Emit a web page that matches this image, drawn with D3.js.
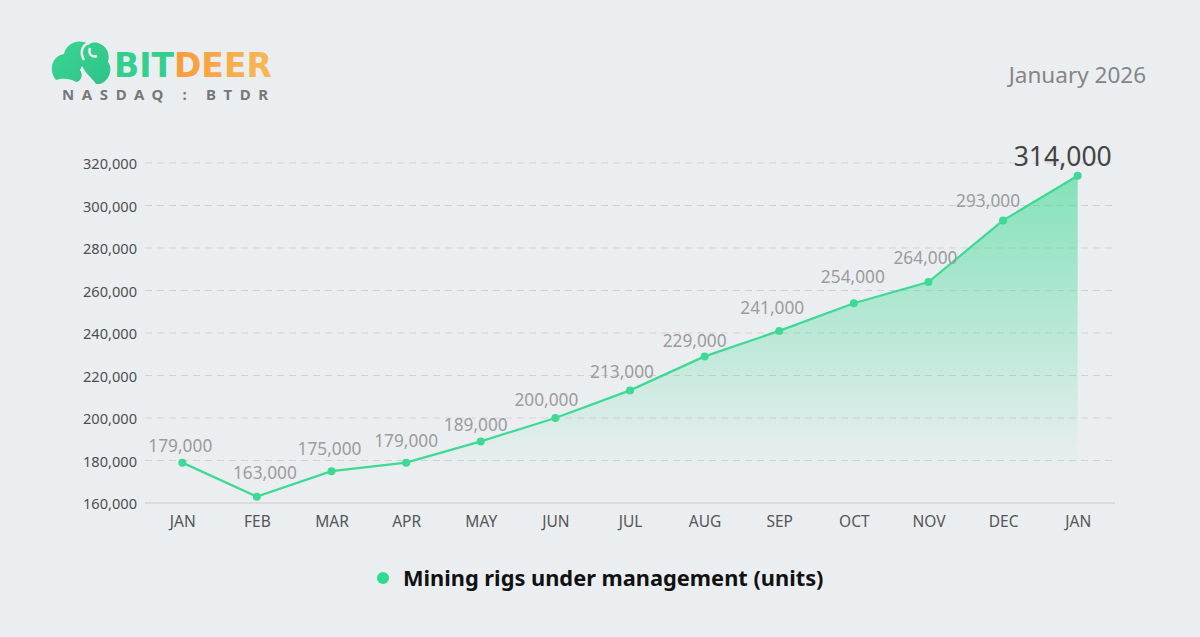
<!DOCTYPE html>
<html>
<head>
<meta charset="utf-8">
<script src="https://cdn.jsdelivr.net/npm/d3@7"></script>
<style>
  html, body { margin: 0; padding: 0; background: #ebeef1; }
  svg { display: block; font-family: "Noto Sans", "Open Sans", sans-serif; }
</style>
</head>
<body>
<div id="chart"><svg></svg></div>
<script>
// data
const months = ["JAN", "FEB", "MAR", "APR", "MAY", "JUN", "JUL", "AUG", "SEP", "OCT", "NOV", "DEC", "JAN"];
const rigs = [179000, 163000, 175000, 179000, 189000, 200000, 213000, 229000, 241000, 254000, 264000, 293000, 314000];
const yTicks = [160000, 180000, 200000, 220000, 240000, 260000, 280000, 300000, 320000];
const seriesName = "Mining rigs under management (units)";
const dateLabel = "January 2026";

const width = 1200, height = 637;
const green = "#3ed994";

// hand nudges of the value labels (dx, dy from the point), as in the picture
const labelNudge = [[-2, -17], [8, -24], [-2, -23], [0, -22], [-5, -17], [-9, -19], [-8, -19],
                    [-10, -16], [-7, -23], [-1, -27], [-3, -25], [-15, -20], [-15, -20]];

const svg = d3.select("svg").attr("width", width).attr("height", height);

const rows = months.map(function(m, i){ return {key: i, month: m, value: rigs[i]}; });

const x = d3.scalePoint()
    .domain(rows.map(d => d.key))
    .range([145, 1115])
    .padding(0.5);

const y = d3.scaleLinear()
    .domain([160000, 320000])
    .range([503, 163]);

// gradients
const defs = svg.append("defs");
const grad = defs.append("linearGradient")
    .attr("id", "areaGrad")
    .attr("gradientUnits", "userSpaceOnUse")
    .attr("x1", 0).attr("y1", y(314000)).attr("x2", 0).attr("y2", y(175000));
grad.append("stop").attr("offset", 0).attr("stop-color", green).attr("stop-opacity", 0.6);
grad.append("stop").attr("offset", 1).attr("stop-color", green).attr("stop-opacity", 0);

const logoGrad = defs.append("linearGradient").attr("id", "deerGrad")
    .attr("x1", 0).attr("y1", 0).attr("x2", 1).attr("y2", 0);
logoGrad.append("stop").attr("offset", 0).attr("stop-color", "#f58a2a");
logoGrad.append("stop").attr("offset", 1).attr("stop-color", "#f7b955");

const iconGrad = defs.append("linearGradient").attr("id", "iconGrad")
    .attr("x1", 0).attr("y1", 0).attr("x2", 1).attr("y2", 1);
iconGrad.append("stop").attr("offset", 0).attr("stop-color", "#3bd592");
iconGrad.append("stop").attr("offset", 1).attr("stop-color", "#2ec389");

// gridlines
svg.append("g").selectAll("line")
    .data(yTicks.slice(1))
    .enter().append("line")
    .attr("x1", 145).attr("x2", 1115)
    .attr("y1", d => y(d)).attr("y2", d => y(d))
    .attr("stroke", "#d8cfcd")
    .attr("stroke-width", 1)
    .attr("stroke-dasharray", "7,5");

// baseline
svg.append("line")
    .attr("x1", 145).attr("x2", 1115)
    .attr("y1", y(160000)).attr("y2", y(160000))
    .attr("stroke", "#c8c8c8").attr("stroke-width", 1);

// y axis labels
const yAxis = d3.axisLeft(y).tickValues(yTicks).tickSize(0).tickPadding(0)
    .tickFormat(d3.format(","));
svg.append("g")
    .attr("transform", "translate(137,1)")
    .call(yAxis)
    .call(g => g.select(".domain").remove())
    .selectAll("text")
    .attr("font-size", 14.6)
    .attr("font-family", "Noto Sans, sans-serif")
    .attr("fill", "#4f4f4f");

// x axis labels
const xAxis = d3.axisBottom(x).tickSize(0).tickPadding(0)
    .tickFormat(i => months[i]);
svg.append("g")
    .attr("transform", "translate(0,516)")
    .call(xAxis)
    .call(g => g.select(".domain").remove())
    .selectAll("text")
    .attr("font-size", 15.5)
    .attr("font-family", "Noto Sans, sans-serif")
    .attr("fill", "#555");

// area + line
const area = d3.area()
    .x(d => x(d.key))
    .y0(y(160000))
    .y1(d => y(d.value));
svg.append("path")
    .datum(rows)
    .attr("d", area)
    .attr("fill", "url(#areaGrad)");

const line = d3.line()
    .x(d => x(d.key))
    .y(d => y(d.value));
svg.append("path")
    .datum(rows)
    .attr("d", line)
    .attr("fill", "none")
    .attr("stroke", green)
    .attr("stroke-width", 2.2);

svg.append("g").selectAll("circle")
    .data(rows)
    .enter().append("circle")
    .attr("cx", d => x(d.key))
    .attr("cy", d => y(d.value))
    .attr("r", 4)
    .attr("fill", green);

// value labels
const last = rows.length - 1;
svg.append("g").selectAll("text")
    .data(rows)
    .enter().append("text")
    .attr("x", d => x(d.key) + labelNudge[d.key][0])
    .attr("y", d => y(d.value) + labelNudge[d.key][1])
    .attr("dominant-baseline", "central")
    .attr("text-anchor", "middle")
    .attr("font-size", function(d){ return d.key === last ? 26.5 : 17.3; })
    .attr("fill", function(d){ return d.key === last ? "#444" : "#9c9c9c"; })
    .text(d => d3.format(",")(d.value));

// legend
svg.append("circle")
    .attr("cx", 383).attr("cy", 578).attr("r", 6)
    .attr("fill", "#2edc8f");
svg.append("text")
    .attr("x", 403).attr("y", 586)
    .attr("font-size", 21.8)
    .attr("font-weight", "bold")
    .attr("fill", "#111")
    .text(seriesName);

// date
svg.append("text")
    .attr("x", 1146).attr("y", 83)
    .attr("text-anchor", "end")
    .attr("font-size", 22.5)
    .attr("fill", "#858585")
    .text(dateLabel);

// logo
const logo = svg.append("g");
logo.append("path")
    .attr("d", "M56,80 C48,70 52,56 64,54 C66,44 78,38 88,44 C100,38 112,50 108,62 C114,70 108,82 100,84 L96,84 C92,78 86,74 82,66 L80,70 C84,76 80,82 76,82 C70,78 62,78 56,80 Z")
    .attr("fill", "url(#iconGrad)");
logo.append("path")
    .attr("d", "M84,60 C79,51 83,44 90,43 M90,48 C88,54 92,58 97,56")
    .attr("fill", "none").attr("stroke", "#ebeef1").attr("stroke-width", 2.5);
logo.append("text")
    .attr("x", 114).attr("y", 77)
    .attr("font-size", 33).attr("font-weight", "bold")
    .attr("font-family", "DejaVu Sans, sans-serif")
    .attr("fill", "#33cf8e")
    .text("BIT")
    .append("tspan").attr("fill", "url(#deerGrad)").text("DEER");
logo.append("text")
    .attr("x", 62).attr("y", 100)
    .attr("font-size", 15).attr("font-weight", "bold")
    .attr("letter-spacing", "7.6px")
    .attr("fill", "#777")
    .text("NASDAQ : BTDR");
</script>
</body>
</html>
